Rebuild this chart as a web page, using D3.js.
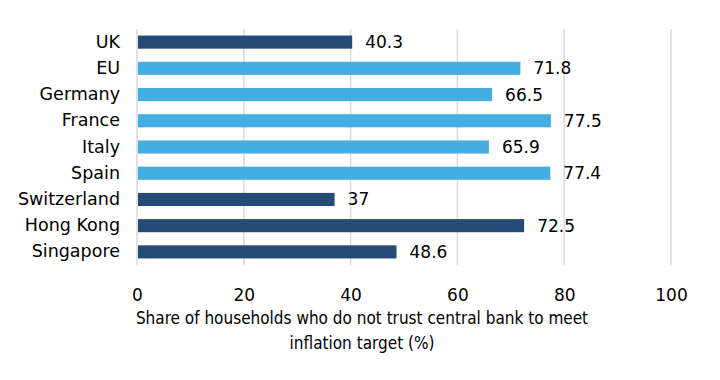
<!DOCTYPE html>
<html>
<head>
<meta charset="utf-8">
<script src="https://cdn.jsdelivr.net/npm/d3@7"></script>
<style>
  body { margin: 0; background: #fff; }
</style>
</head>
<body>
<div id="vizcont"></div>
<script>
// data
var countries = ["UK", "EU", "Germany", "France", "Italy", "Spain", "Switzerland", "Hong Kong", "Singapore"];
var shares = [40.3, 71.8, 66.5, 77.5, 65.9, 77.4, 37, 72.5, 48.6];
var groups = ["non-euro", "euro", "euro", "euro", "euro", "euro", "non-euro", "non-euro", "non-euro"];
var xTicks = [0, 20, 40, 60, 80, 100];
var titleLines = ["Share of households who do not trust central bank to meet", "inflation target (%)"];

var data = countries.map(function(c, i) {
    return { country: c, value: shares[i], group: groups[i] };
});

var margin = {top: 29, right: 49, bottom: 115, left: 137};
var width = 720 - margin.left - margin.right;
var height = 380 - margin.top - margin.bottom;

var svg = d3.select("#vizcont")
    .append("svg")
    .attr("width", 720)
    .attr("height", 380);

var g = svg.append("g")
    .attr("transform", "translate(" + margin.left + "," + margin.top + ")");

var x = d3.scaleLinear()
    .domain([0, 100])
    .range([0, width]);

var y = d3.scaleBand()
    .domain(countries)
    .range([0, height])
    .paddingInner(0.5)
    .paddingOuter(0.25);

var z = d3.scaleOrdinal()
    .domain(["non-euro", "euro"])
    .range(["#254a76", "#44ade1"]);

// vertical gridlines
g.append("g")
    .selectAll("line")
    .data(xTicks)
    .enter()
    .append("line")
    .attr("x1", function(d) { return x(d); })
    .attr("x2", function(d) { return x(d); })
    .attr("y1", 0)
    .attr("y2", height)
    .attr("stroke", "#d9d9d9")
    .attr("stroke-width", 1.5);

// bars
g.append("g")
    .selectAll("rect")
    .data(data)
    .enter()
    .append("rect")
    .attr("x", x(0) + 1)
    .attr("y", function(d) { return y(d.country); })
    .attr("width", function(d) { return x(d.value) - x(0) - 1; })
    .attr("height", y.bandwidth())
    .attr("fill", function(d) { return z(d.group); });

// value labels
g.append("g")
    .selectAll("text")
    .data(data)
    .enter()
    .append("text")
    .attr("x", function(d) { return x(d.value) + 13; })
    .attr("y", function(d) { return y(d.country) + y.bandwidth() / 2; })
    .attr("dy", "0.35em")
    .style("font", "17px 'DejaVu Sans'")
    .attr("fill", "#000")
    .text(function(d) { return d.value; });

// category axis
var yAxis = g.append("g")
    .call(d3.axisLeft(y).tickSize(0).tickPadding(17));
yAxis.select(".domain").remove();
yAxis.selectAll("text")
    .style("font", "17.5px 'DejaVu Sans'")
    .attr("fill", "#000");

// x axis
var xAxis = g.append("g")
    .attr("transform", "translate(0," + height + ")")
    .call(d3.axisBottom(x).tickValues(xTicks).tickSize(0).tickPadding(24));
xAxis.select(".domain").remove();
xAxis.selectAll("text")
    .style("font", "17px 'DejaVu Sans'")
    .attr("fill", "#000");

// axis title
svg.append("text")
    .attr("x", 362)
    .attr("y", 324)
    .attr("text-anchor", "middle")
    .style("font", "17px 'DejaVu Sans Condensed'")
    .attr("fill", "#000")
    .selectAll("tspan")
    .data(titleLines)
    .enter()
    .append("tspan")
    .attr("x", 362)
    .attr("dy", function(d, i) { return i === 0 ? 0 : 25; })
    .text(function(d) { return d; });
</script>
</body>
</html>
